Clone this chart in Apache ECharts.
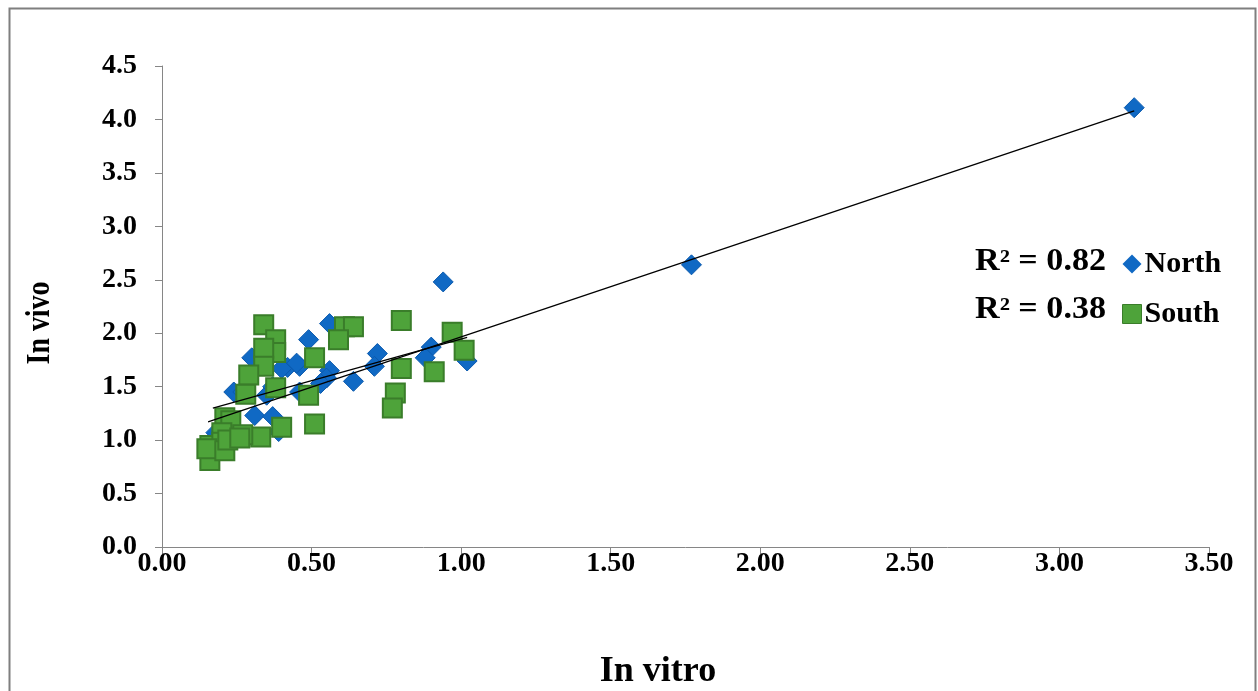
<!DOCTYPE html>
<html>
<head>
<meta charset="utf-8">
<script src="https://cdn.jsdelivr.net/npm/echarts@6/dist/echarts.min.js"></script>
<style>
html,body{margin:0;padding:0;background:#fff;}
#c{width:1258px;height:691px;}
</style>
</head>
<body>
<div id="c"></div>
<script>
// North (blue diamonds): [in vitro, in vivo]
var northData = [
  [3.25, 4.11], [1.77, 2.64], [0.94, 2.48], [1.02, 1.74], [0.90, 1.87],
  [0.88, 1.77], [0.72, 1.81], [0.71, 1.69], [0.64, 1.55], [0.56, 2.09],
  [0.49, 1.94], [0.42, 1.68], [0.46, 1.69], [0.56, 1.65], [0.55, 1.58],
  [0.53, 1.53], [0.46, 1.45], [0.30, 1.77], [0.40, 1.67], [0.24, 1.45],
  [0.35, 1.42], [0.31, 1.23], [0.37, 1.22], [0.18, 1.07], [0.37, 1.50],
  [0.39, 1.08], [0.45, 1.72], [0.27, 1.45]
];
// South (green squares)
var southData = [
  [0.34, 2.08], [0.38, 1.94], [0.38, 1.82], [0.34, 1.86], [0.34, 1.69],
  [0.29, 1.61], [0.28, 1.43], [0.38, 1.49], [0.51, 1.77], [0.49, 1.42],
  [0.51, 1.15], [0.21, 1.21], [0.23, 1.18], [0.40, 1.12], [0.33, 1.03],
  [0.27, 1.05], [0.20, 1.07], [0.16, 0.95], [0.16, 0.81], [0.20, 0.98],
  [0.61, 2.06], [0.64, 2.06], [0.59, 1.94], [0.80, 2.12], [0.97, 2.01],
  [1.01, 1.84], [0.80, 1.67], [0.91, 1.64], [0.78, 1.44], [0.77, 1.30],
  [0.15, 0.92], [0.21, 0.90], [0.22, 1.00], [0.26, 1.02]
];
// Linear trendlines (endpoints)
var northTrend = [[0.154, 1.17], [3.25, 4.08]];
var southTrend = [[0.17, 1.30], [1.02, 1.96]];
var r2Labels = ['R\u00b2 = 0.82', 'R\u00b2 = 0.38'];
var seriesNames = ['North', 'South'];
var axisTitles = {x: 'In vitro', y: 'In vivo'};
var xTicks = {min: 0, max: 3.5, interval: 0.5};
var yTicks = {min: 0, max: 4.5, interval: 0.5};

var FONT = '"Liberation Serif", "Times New Roman", serif';
var axisGray = '#868686';

var chart = echarts.init(document.getElementById('c'), null, {renderer: 'canvas'});
chart.setOption({
  animation: false,
  backgroundColor: '#ffffff',
  grid: {left: 162, right: 49, top: 66, bottom: 144, containLabel: false},
  xAxis: {
    type: 'value', min: xTicks.min, max: xTicks.max, interval: xTicks.interval,
    axisLine: {show: true, onZero: false, lineStyle: {color: axisGray, width: 1}},
    axisTick: {show: true, inside: false, length: 7, lineStyle: {color: axisGray}},
    splitLine: {show: false},
    axisLabel: {
      margin: 3, color: '#000', fontFamily: FONT, fontWeight: 'bold', fontSize: 28,
      formatter: function (v) { return v.toFixed(2); }
    }
  },
  yAxis: {
    type: 'value', min: yTicks.min, max: yTicks.max, interval: yTicks.interval,
    axisLine: {show: true, onZero: false, lineStyle: {color: axisGray, width: 1}},
    axisTick: {show: true, inside: false, length: 7, lineStyle: {color: axisGray}},
    splitLine: {show: false},
    axisLabel: {
      margin: 25, color: '#000', fontFamily: FONT, fontWeight: 'bold', fontSize: 28,
      formatter: function (v) { return v.toFixed(1); }
    }
  },
  legend: {
    orient: 'vertical', left: 1117, top: 244, itemGap: 20,
    itemWidth: 19, itemHeight: 19,
    textStyle: {color: '#000', fontFamily: FONT, fontWeight: 'bold', fontSize: 30, padding: [0, 0, 0, -2]},
    data: [
      {name: seriesNames[0], icon: 'diamond', itemStyle: {color: '#1069C4', borderWidth: 0}},
      {name: seriesNames[1], icon: 'rect', itemStyle: {color: '#4EA33A', borderColor: '#3A7D2A', borderWidth: 1}}
    ]
  },
  graphic: [
    {type: 'rect', left: 7, top: 6, shape: {width: 1246, height: 720},
      style: {fill: 'none', stroke: '#7f7f7f', lineWidth: 2}, silent: true},
    {type: 'text', x: 975, y: 262, scaleX: 1.1, style: {text: r2Labels[0], fill: '#000', font: 'bold 31px ' + FONT, verticalAlign: 'middle'}},
    {type: 'text', x: 975, y: 310, scaleX: 1.1, style: {text: r2Labels[1], fill: '#000', font: 'bold 31px ' + FONT, verticalAlign: 'middle'}},
    {type: 'text', x: 658, y: 672, style: {text: axisTitles.x, fill: '#000', font: 'bold 36px ' + FONT, align: 'center', verticalAlign: 'middle'}},
    {type: 'text', x: 40, y: 323, rotation: Math.PI / 2, scaleX: 0.82, style: {text: axisTitles.y, fill: '#000', font: 'bold 34px ' + FONT, align: 'center', verticalAlign: 'middle'}}
  ],
  series: [
    {
      name: seriesNames[0], type: 'scatter', symbol: 'diamond', symbolSize: 20, z: 2,
      itemStyle: {color: '#1069C4', borderColor: '#0B5AAE', borderWidth: 1, opacity: 1},
      data: northData
    },
    {
      name: seriesNames[1], type: 'scatter', symbol: 'rect', symbolSize: 19, z: 3,
      itemStyle: {color: '#4EA33A', borderColor: '#3A7D2A', borderWidth: 2, opacity: 1},
      data: southData
    },
    {
      name: 'North trend', type: 'line', data: northTrend, symbol: 'none', z: 4,
      lineStyle: {color: '#000', width: 1.3}, silent: true
    },
    {
      name: 'South trend', type: 'line', data: southTrend, symbol: 'none', z: 4,
      lineStyle: {color: '#000', width: 1.3}, silent: true
    }
  ]
});
</script>
</body>
</html>
